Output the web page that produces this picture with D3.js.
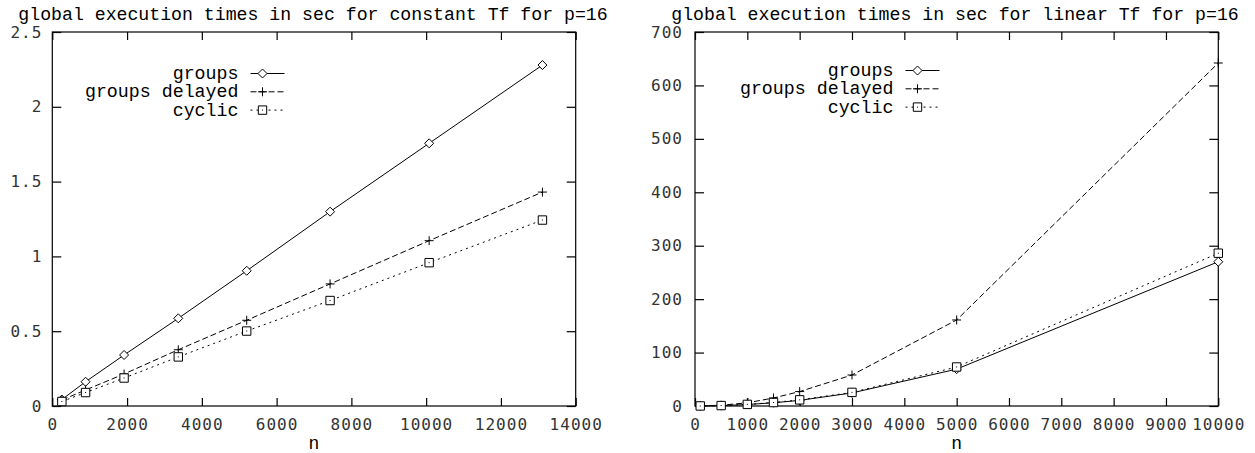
<!DOCTYPE html>
<html><head><meta charset="utf-8">
<script src="https://cdn.jsdelivr.net/npm/d3@7"></script>
<style>
html,body{margin:0;padding:0;background:#fff;}
svg{display:block;}
</style></head>
<body>
<svg id="chart" width="1255" height="453"></svg>
<script>
// ---------- data ----------
const seriesNames = ["groups", "groups delayed", "cyclic"];

// left panel: constant Tf
const leftTitle = "global execution times in sec for constant Tf for p=16";
const leftN = [256, 890, 1920, 3370, 5200, 7430, 10080, 13110];
const leftGroups = [0.043, 0.162, 0.341, 0.586, 0.904, 1.299, 1.756, 2.279];
const leftDelayed = [0.040, 0.107, 0.214, 0.376, 0.573, 0.816, 1.105, 1.430];
const leftCyclic = [0.030, 0.090, 0.187, 0.328, 0.501, 0.705, 0.958, 1.243];
const leftXTicks = [0, 2000, 4000, 6000, 8000, 10000, 12000, 14000];
const leftYTicks = [0, 0.5, 1, 1.5, 2, 2.5];

// right panel: linear Tf
const rightTitle = "global execution times in sec for linear Tf for p=16";
const rightN = [100, 500, 1000, 1500, 2000, 3000, 5000, 10000];
const rightGroups = [0.1, 0.7, 2.8, 6.0, 10.5, 24.5, 69, 270];
const rightDelayed = [0.1, 1.5, 6.0, 15, 27, 58, 161, 642];
const rightCyclic = [0.1, 0.8, 3.0, 6.5, 11.5, 25.5, 73, 286];
const rightXTicks = [0, 1000, 2000, 3000, 4000, 5000, 6000, 7000, 8000, 9000, 10000];
const rightYTicks = [0, 100, 200, 300, 400, 500, 600, 700];

const xLabel = "n";

// ---------- drawing ----------
const svg = d3.select("#chart");
const monoSerif = "'Courier New', Courier, 'Nimbus Mono PS', 'Nimbus Mono L', FreeMono, 'Liberation Mono', monospace";
const monoSans = "'DejaVu Sans Mono', monospace";

const styles = [
  {dash: null, marker: "diamond"},
  {dash: "6,3", marker: "plus"},
  {dash: "2,4", marker: "square"}
];

function markerPath(type) {
  const p = d3.path();
  if (type === "diamond") {
    const r = 4.5;
    p.moveTo(0, -r); p.lineTo(r, 0); p.lineTo(0, r); p.lineTo(-r, 0); p.closePath();
  } else if (type === "plus") {
    const r = 4.5;
    p.moveTo(-r, 0); p.lineTo(r, 0); p.moveTo(0, -r); p.lineTo(0, r);
  } else {
    const r = 4.2;
    p.rect(-r, -r, 2 * r, 2 * r);
    p.moveTo(-0.5, 0); p.lineTo(0.5, 0);
  }
  return p.toString();
}

function panel(cfg) {
  const x = d3.scaleLinear().domain(cfg.xDomain).range(cfg.xRange);
  const y = d3.scaleLinear().domain(cfg.yDomain).range([406, 32]);
  const g = svg.append("g");
  const [x0, x1] = cfg.xRange;

  // title
  g.append("text").attr("x", cfg.titleX).attr("y", 20)
    .attr("text-anchor", "middle").style("font-family", monoSerif).style("font-size", "18.2px")
    .text(cfg.title);

  // axes
  const fmtX = d3.format("d");
  const fmtY = d3.format("~g");
  const bottom = g.append("g").attr("transform", "translate(0,406)")
    .call(d3.axisBottom(x).tickValues(cfg.xTicks).tickSize(-8).tickPadding(13).tickFormat(fmtX));
  const top = g.append("g").attr("transform", "translate(0,32)")
    .call(d3.axisTop(x).tickValues(cfg.xTicks).tickSize(-8).tickFormat(""));
  const left = g.append("g").attr("transform", `translate(${x0},0)`)
    .call(d3.axisLeft(y).tickValues(cfg.yTicks).tickSize(-9).tickPadding(cfg.yPad).tickFormat(fmtY));
  const right = g.append("g").attr("transform", `translate(${x1},0)`)
    .call(d3.axisRight(y).tickValues(cfg.yTicks).tickSize(-9).tickFormat(""));
  [bottom, top, left, right].forEach(a => {
    a.select(".domain").remove();
    a.selectAll("line").attr("stroke", "#000").attr("stroke-width", 1.2);
    a.selectAll("text").style("font-family", monoSans).style("font-size", "16px")
      .style("letter-spacing", "1px").attr("fill", "#333");
  });

  // border
  g.append("rect").attr("x", x0).attr("y", 32).attr("width", x1 - x0).attr("height", 374)
    .attr("fill", "none").attr("stroke", "#000").attr("stroke-width", 1.2);

  // x label
  g.append("text").attr("x", (x0 + x1) / 2).attr("y", 449).attr("text-anchor", "middle")
    .style("font-family", monoSerif).style("font-size", "18px").text(xLabel);

  // series
  const line = d3.line().x(d => x(d[0])).y(d => y(d[1]));
  cfg.series.forEach((vals, i) => {
    const pts = cfg.n.map((n, j) => [n, vals[j]]);
    g.append("path").datum(pts).attr("d", line).attr("fill", "none")
      .attr("stroke", "#000").attr("stroke-width", 1)
      .attr("stroke-dasharray", styles[i].dash);
    g.selectAll(null).data(pts).enter().append("path")
      .attr("transform", d => `translate(${x(d[0])},${y(d[1])})`)
      .attr("d", markerPath(styles[i].marker))
      .attr("fill", styles[i].marker === "plus" ? "none" : "#fff")
      .attr("stroke", "#000").attr("stroke-width", 1);
  });

  // legend
  seriesNames.forEach((name, i) => {
    const cy = cfg.legendY + i * 18.3;
    g.append("text").attr("x", cfg.legendTextX).attr("y", cy).attr("dy", "0.3em")
      .attr("text-anchor", "end").style("font-family", monoSerif).style("font-size", "18.3px")
      .text(name);
    const lx = cfg.legendTextX + 12;
    g.append("line").attr("x1", lx).attr("x2", lx + 34).attr("y1", cy).attr("y2", cy)
      .attr("stroke", "#000").attr("stroke-width", 1).attr("stroke-dasharray", styles[i].dash);
    g.append("path").attr("transform", `translate(${lx + 12},${cy})`)
      .attr("d", markerPath(styles[i].marker))
      .attr("fill", styles[i].marker === "plus" ? "none" : "#fff")
      .attr("stroke", "#000").attr("stroke-width", 1);
  });
}

panel({
  title: leftTitle, titleX: 313,
  xDomain: [0, 14000], xRange: [52.3, 575.7], yDomain: [0, 2.5],
  xTicks: leftXTicks, yTicks: leftYTicks, yPad: 10,
  n: leftN, series: [leftGroups, leftDelayed, leftCyclic],
  legendTextX: 238.5, legendY: 73.5
});
panel({
  title: rightTitle, titleX: 955,
  xDomain: [0, 10000], xRange: [695, 1218.3], yDomain: [0, 700],
  xTicks: rightXTicks, yTicks: rightYTicks, yPad: 12,
  n: rightN, series: [rightGroups, rightDelayed, rightCyclic],
  legendTextX: 893.5, legendY: 70.5
});
</script>
</body></html>
